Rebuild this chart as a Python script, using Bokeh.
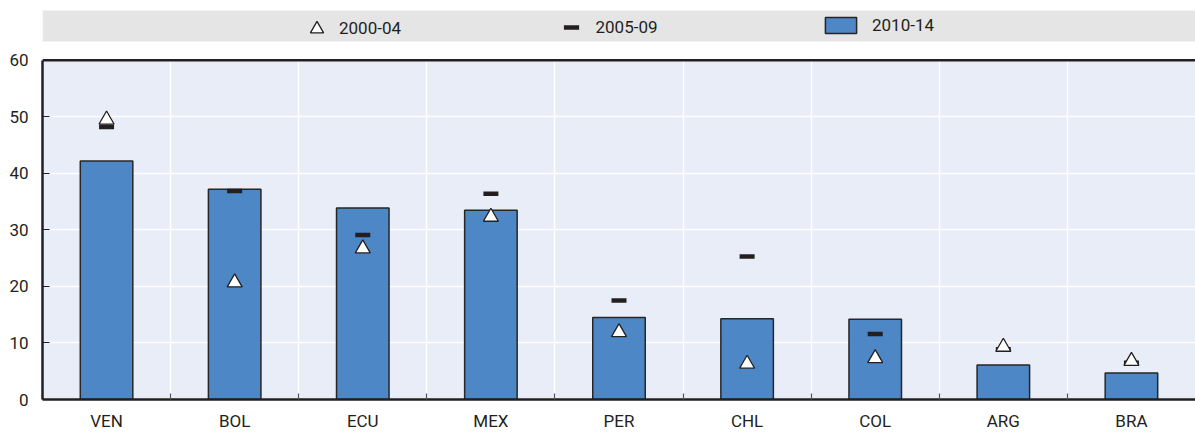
from bokeh.plotting import figure
from bokeh.models import (FixedTicker, BoxAnnotation, Span, Label, Legend, LegendItem,
                          ColumnDataSource)
from bokeh.embed import file_html
from bokeh.resources import INLINE

# ---- data ----
countries = ["VEN", "BOL", "ECU", "MEX", "PER", "CHL", "COL", "ARG", "BRA"]
v_2010_14 = [42.2, 37.2, 33.9, 33.5, 14.5, 14.3, 14.2, 6.1, 4.7]
v_2005_09 = [48.2, 36.9, 29.1, 36.4, 17.5, 25.3, 11.6, 8.9, 6.5]
v_2000_04 = [49.5, 20.7, 26.7, 32.3, 11.9, 6.3, 7.3, 9.3, 6.8]
y_ticks = [0, 10, 20, 30, 40, 50, 60]
series_names = ["2000-04", "2005-09", "2010-14"]

FONT = "Roboto"
TXT = "#231f20"
BAR = "#4e87c5"
BG = "#e9edf7"

xs = list(range(len(countries)))
src = ColumnDataSource(dict(x=xs, a=v_2000_04, b=v_2005_09, c3=v_2010_14))

W, H = 1195, 433
frame_h = 400
px_per_unit = 340 / 60.0
ytop = frame_h / px_per_unit

p = figure(width=W, height=H, output_backend="svg", toolbar_location=None,
           x_range=(-0.5, len(countries) - 0.5), y_range=(0, ytop),
           min_border_left=42, min_border_right=0, min_border_top=0, min_border_bottom=33)
p.background_fill_color = "white"
p.border_fill_color = "white"
p.outline_line_color = None

# plot area background (0..60)
p.add_layout(BoxAnnotation(bottom=0, top=60, fill_color=BG, fill_alpha=1, line_color=None, level="image"))
# legend band
p.add_layout(BoxAnnotation(bottom=(frame_h - 41) / px_per_unit, top=(frame_h - 10) / px_per_unit,
                           fill_color="#e5e5e6", fill_alpha=1, line_color=None, level="glyph"))
# top border line of plot area
p.add_layout(Span(location=60, dimension="width", line_color="#231f20", line_width=2.5))

# grids
p.ygrid.ticker = FixedTicker(ticks=y_ticks)
p.ygrid.grid_line_color = "white"
p.ygrid.grid_line_width = 1.5
p.xgrid.ticker = FixedTicker(ticks=[i + 0.5 for i in xs[:-1]])
p.xgrid.grid_line_color = "white"
p.xgrid.grid_line_width = 1.5

# axes
ya = p.yaxis[0]
ya.ticker = FixedTicker(ticks=y_ticks)
ya.bounds = (0, 60)
ya.axis_line_color = "#231f20"
ya.axis_line_width = 2.5
ya.major_tick_in = 7
ya.major_tick_out = 0
ya.major_tick_line_color = "#231f20"
ya.major_tick_line_width = 1.2
ya.minor_tick_line_color = None
ya.major_label_standoff = 14
ya.major_label_text_font = FONT
ya.major_label_text_font_size = "17px"
ya.major_label_text_color = TXT

xa = p.xaxis[0]
xa.ticker = FixedTicker(ticks=xs, minor_ticks=[i + 0.5 for i in xs[:-1]])
xa.major_label_overrides = {i: c for i, c in zip(xs, countries)}
xa.axis_line_color = "#231f20"
xa.axis_line_width = 2.5
xa.major_tick_line_color = None
xa.major_tick_in = 0
xa.major_tick_out = 0
xa.minor_tick_in = 6
xa.minor_tick_out = 0
xa.minor_tick_line_color = "#555555"
xa.minor_tick_line_width = 1.2
xa.major_label_standoff = 11
xa.major_label_text_font = FONT
xa.major_label_text_font_size = "17px"
xa.major_label_text_color = TXT

# glyphs
r_bar = p.vbar(x="x", top="c3", width=0.41, bottom=0, source=src,
               fill_color=BAR, line_color="#262626", line_width=1.5)
r_dash = p.scatter(x="x", y="b", source=src, marker="dash", size=15,
                   line_color="#231f20", line_width=4.5)
r_tri = p.scatter(x="x", y="a", source=src, marker="triangle", size=15,
                  fill_color="white", line_color="#231f20", line_width=1.3)

# "%" label (left of the plot area, above the 60 tick)
p.add_layout(Label(x=-0.5 - 24 / 128.1, y=(frame_h - 31.5) / px_per_unit, text="%",
                   text_font=FONT, text_font_size="16px", text_color=TXT,
                   text_align="center", text_baseline="middle"))

def mk_legend(item, renderer, loc, gw, gh, standoff):
    lg = Legend(items=[LegendItem(label=item, renderers=[renderer])], location=loc,
                orientation="horizontal", glyph_width=gw, glyph_height=gh,
                label_standoff=standoff, padding=0, margin=0, spacing=0,
                border_line_color=None, background_fill_alpha=0,
                label_text_font=FONT, label_text_font_size="17px", label_text_color=TXT)
    p.add_layout(lg)

mk_legend(series_names[0], r_tri, (258, frame_h - 33 - 12.5), 33, 33, 6)
mk_legend(series_names[1], r_dash, (509.5, frame_h - 38 - 8.5), 38, 38, 6)
mk_legend(series_names[2], r_bar, (779, frame_h - 20 - 16), 39, 20, 12)

open("out.html", "w").write(file_html(p, INLINE))
